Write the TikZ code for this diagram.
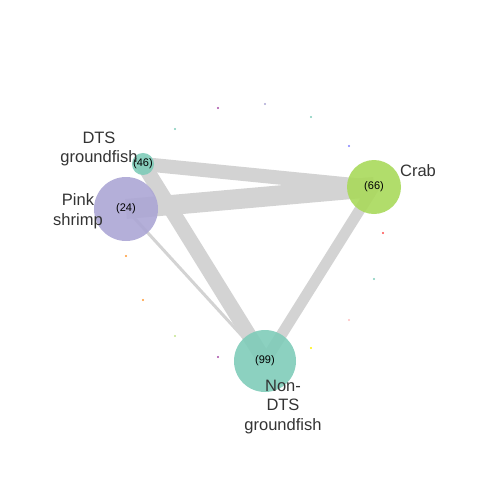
\documentclass[tikz,border=0pt]{standalone}
\usepackage{fontspec}
\setmainfont{Liberation Sans}
\definecolor{edgegray}{HTML}{D3D3D3}
\definecolor{tealnode}{HTML}{7FCCB9}
\definecolor{lavnode}{HTML}{ACA6D5}
\definecolor{limenode}{HTML}{A9D95B}
\definecolor{labgray}{HTML}{333333}
\tikzset{
  fleet/.style={circle, inner sep=0pt, fill opacity=0.9, text opacity=1,
    font=\fontsize{11}{12}\selectfont},
  link/.style={draw=edgegray, line cap=butt},
  fleetlab/.style={align=center, text=labgray, inner sep=0pt,
    font=\fontsize{16.5}{19.5}\selectfont}
}
\begin{document}
\begin{tikzpicture}[x=1pt, y=-1pt]
\useasboundingbox (0,0) rectangle (480,480);
% nodes first (placed), drawn over the links below
\node[fleet, minimum size=14pt] (dts) at (143,164) {};
\node[fleet, minimum size=64pt] (shrimp) at (126,209) {};
\node[fleet, minimum size=54pt] (crab) at (374,187) {};
\node[fleet, minimum size=62pt] (nondts) at (265,361) {};
% links
\draw[link, line width=14pt] (dts.center) -- (crab.center);
\draw[link, line width=20pt] (shrimp.center) -- (crab.center);
\draw[link, line width=15pt] (dts.center) -- (nondts.center);
\draw[link, line width=3pt] (shrimp.center) -- (nondts.center);
\draw[link, line width=11pt] (crab.center) -- (nondts.center);
% circles again on top
\node[fleet, fill=tealnode, minimum size=14pt] at (dts) {(46)};
\node[fleet, fill=lavnode, minimum size=64pt] at (shrimp) {(24)};
\node[fleet, fill=limenode, minimum size=54pt] at (crab) {(66)};
\node[fleet, fill=tealnode, minimum size=62pt] at (nondts) {(99)};
% labels
\node[fleetlab] (dtslab) at (99,149) {DTS\\groundfish};
\node[fleetlab] (shrimplab) at (78,211) {Pink\\shrimp};
\node[fleetlab] (crablab) at (418,171) {Crab};
\node[fleetlab] (nondtslab) at (283,407) {Non-\\DTS\\groundfish};
% tiny fleets on the ring
\foreach \px/\py/\c in {218/108/violet!70, 265/104/lavnode, 311/117/tealnode,
  175/129/tealnode, 349/146/blue!50, 383/233/red!70, 374/279/tealnode,
  349/320/pink, 311/348/yellow, 218/357/violet!70, 175/336/limenode!70,
  143/300/orange!80, 126/256/orange!80}
  \fill[\c] (\px,\py) circle (1.1pt);
\end{tikzpicture}
\end{document}
